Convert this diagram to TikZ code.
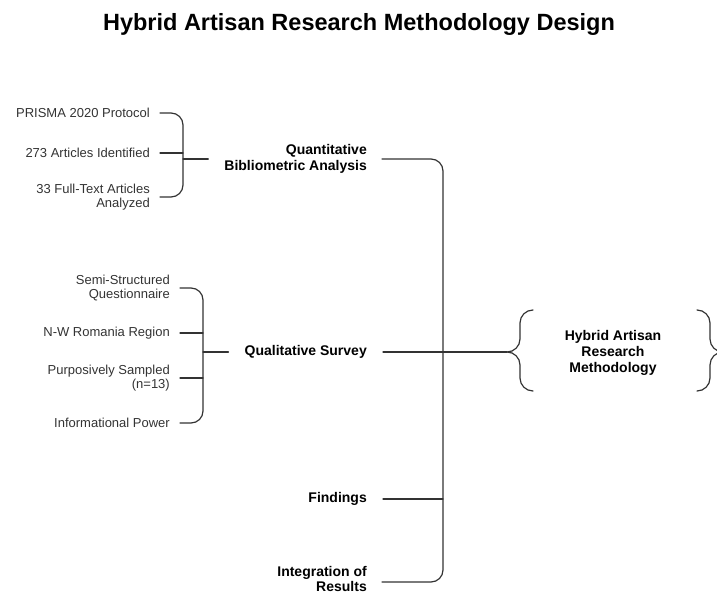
\documentclass[tikz,border=0pt]{standalone}
\usepackage{fontspec}
\setmainfont{Liberation Sans}
\begin{document}
\begin{tikzpicture}[x=1pt, y=-1pt, line cap=round]
    \tikzstyle{title_style} = [inner sep=0pt, font=\bfseries\fontsize{23.5}{28}\selectfont]
    \tikzstyle{item_style} = [anchor=east, align=right, inner sep=0pt, text=black!80, font=\fontsize{13}{14}\selectfont]
    \tikzstyle{label_style} = [anchor=east, align=right, inner sep=0pt, font=\bfseries\fontsize{14}{16}\selectfont]
    \tikzstyle{edge_style} = [draw=black!80, line width=1.2pt, rounded corners=12pt]
    \useasboundingbox (0,0) rectangle (717,593);

    \node[title_style] (title) at (359,24) {Hybrid Artisan Research Methodology Design};

    \node[item_style] (q1) at (150,113) {PRISMA 2020 Protocol};
    \node[item_style] (q2) at (150,153) {273 Articles Identified};
    \node[item_style] (q3) at (150,197) {33 Full-Text Articles\\Analyzed};
    \node[item_style] (s1) at (170,288) {Semi-Structured\\Questionnaire};
    \node[item_style] (s2) at (170,333) {N-W Romania Region};
    \node[item_style] (s3) at (170,378) {Purposively Sampled\\(n=13)};
    \node[item_style] (s4) at (170,423) {Informational Power};

    \node[label_style] (quant) at (367,159) {Quantitative\\Bibliometric Analysis};
    \node[label_style] (qual) at (367,352) {Qualitative Survey};
    \node[label_style] (find) at (367,499) {Findings};
    \node[label_style, font=\bfseries\fontsize{14}{15}\selectfont] (integ) at (367,579) {Integration of\\Results};
    \node[label_style, anchor=center, align=center] (hyb) at (613,353) {Hybrid Artisan\\Research\\Methodology};

    \coordinate (qtop) at (183,113);
    \coordinate (qbot) at (183,197);
    \coordinate (qmid) at (183,159);
    \coordinate (stop) at (203,288);
    \coordinate (sbot) at (203,423);
    \coordinate (smid) at (203,352);
    \coordinate (mtop) at (443,159);
    \coordinate (mbot) at (443,582);
    \coordinate (htip) at (507,352);

    % quantitative bracket
    \draw[edge_style] ([xshift=10pt]q1.east) -- (qtop) -- (qbot) -- ([xshift=10pt]q3.east);
    \draw[edge_style] ([xshift=10pt]q2.east) -- (q2 -| qtop);
    \draw[edge_style] (qmid) -- ([xshift=-16pt]quant.west);

    % survey bracket
    \draw[edge_style] ([xshift=10pt]s1.east) -- (stop) -- (sbot) -- ([xshift=10pt]s4.east);
    \draw[edge_style] ([xshift=10pt]s2.east) -- (s2 -| stop);
    \draw[edge_style] ([xshift=10pt]s3.east) -- (s3 -| stop);
    \draw[edge_style] (smid) -- ([xshift=-16pt]qual.west);

    % main bracket
    \draw[edge_style] ([xshift=15pt]quant.east) -- (mtop) -- (mbot) -- ([xshift=15pt]integ.east |- mbot);
    \draw[edge_style] ([xshift=16pt]qual.east) -- (htip);
    \draw[edge_style] ([xshift=16pt]find.east) -- (find -| mtop);

    % braces round the result
    \draw[edge_style, sharp corners] (533,310) to[out=180, in=90] (520,323) -- (520,339)
        to[out=-90, in=0] (htip) to[out=0, in=90] (520,365) -- (520,378) to[out=-90, in=180] (533,391);
    \draw[edge_style, sharp corners] (697,310) to[out=0, in=90] (710,323) -- (710,339)
        to[out=-90, in=180] (723,352) to[out=180, in=90] (710,365) -- (710,378) to[out=-90, in=0] (697,391);
\end{tikzpicture}
\end{document}
